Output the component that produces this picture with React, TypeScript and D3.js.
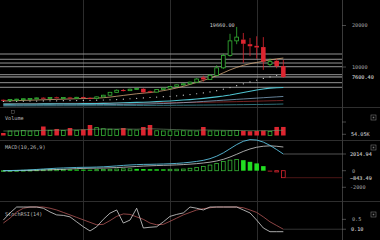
import React from 'react';
import * as d3 from 'd3';

const dates = ['2017-04-24','2017-05-01','2017-05-08','2017-05-15','2017-05-22','2017-05-29','2017-06-05','2017-06-12','2017-06-19','2017-06-26','2017-07-03','2017-07-10','2017-07-17','2017-07-24','2017-07-31','2017-08-07','2017-08-14','2017-08-21','2017-08-28','2017-09-04','2017-09-11','2017-09-18','2017-09-25','2017-10-02','2017-10-09','2017-10-16','2017-10-23','2017-10-30','2017-11-06','2017-11-13','2017-11-20','2017-11-27','2017-12-04','2017-12-11','2017-12-18','2017-12-25','2018-01-01','2018-01-08','2018-01-15','2018-01-22','2018-01-29','2018-02-05','2018-02-12'];
const opens = [2100,1950,2150,2250,2300,2350,2600,2400,2700,2500,2650,2550,2750,2550,2450,2800,3200,3900,4450,4300,4650,4750,4150,3950,4600,4900,5300,5700,5950,6350,7500,7000,8000,9800,12800,16300,16600,15500,15100,14800,10600,11500,10200];
const highs = [2200,2250,2350,2450,2500,2650,2750,2750,2850,2750,2800,2800,2850,2700,2900,3300,4000,4600,4700,4800,4950,4950,4300,4700,5000,5400,5800,6100,6500,7300,7900,8200,10400,13200,18000,19660,18200,17000,17400,17200,12000,11900,11700];
const lows = [1800,1850,2050,2150,2200,2250,2300,2350,2400,2400,2450,2500,2400,2300,2400,2750,3100,3800,4100,4200,4500,3600,3700,3900,4500,4800,5200,5500,5800,6200,6500,6900,7900,9500,12500,15500,11000,12600,12000,9300,10000,9700,7400];
const closes = [1950,2150,2250,2350,2400,2550,2400,2650,2500,2650,2550,2700,2500,2450,2800,3200,3900,4400,4300,4650,4800,3900,3950,4600,4900,5300,5700,5950,6350,7100,7000,8000,9800,12800,16300,17200,15600,15000,14700,11300,11300,10200,7600.4];
const volumes = [111,200,200,220,200,210,400,230,290,220,333,230,270,467,350,300,280,260,333,250,240,378,467,210,200,205,200,210,205,200,378,200,205,200,210,220,210,190,200,220,180,380,380];
const volumeMA = [200,200,205,210,210,215,230,235,240,240,250,250,255,270,280,285,285,285,290,285,280,290,300,290,280,270,260,250,240,235,245,240,235,230,225,225,220,215,215,215,215,225,235];
const maTan = [1800,1850,1900,1950,2000,2050,2100,2150,2200,2250,2300,2350,2400,2450,2500,2600,2750,2950,3150,3350,3550,3700,3850,4050,4300,4600,4950,5350,5800,6300,6750,7300,7900,8600,9300,9900,10400,10800,11100,11400,11700,11950,12150];
const maDot = [1700,1720,1740,1760,1780,1800,1820,1840,1860,1880,1900,1920,1950,1980,2010,2050,2100,2150,2250,2350,2450,2550,2650,2750,2850,2950,3050,3200,3350,3550,3750,4000,4300,4650,5050,5500,5950,6400,6850,7250,7600,7950,8250];
const maTeal = [1050,1060,1070,1080,1090,1100,1110,1120,1130,1140,1150,1160,1170,1185,1200,1230,1270,1320,1370,1420,1470,1520,1580,1650,1730,1820,1920,2030,2150,2300,2450,2620,2800,3000,3250,3550,3850,4150,4450,4700,4900,5000,5050];
const maBlue = [800,810,820,830,840,850,860,870,880,890,900,910,920,930,940,950,960,975,990,1010,1030,1060,1100,1150,1200,1260,1330,1410,1500,1600,1700,1800,1900,2000,2100,2200,2300,2400,2500,2600,2700,2800,2900];
const maRed = [1150,1160,1170,1180,1190,1200,1210,1220,1230,1240,1250,1260,1270,1280,1290,1300,1310,1320,1330,1340,1350,1360,1370,1380,1390,1400,1420,1440,1460,1480,1500,1530,1560,1590,1620,1650,1690,1730,1770,1810,1850,1890,1930];
const maDark = [600,605,610,615,620,625,630,635,640,645,650,655,660,665,670,675,680,690,700,710,720,730,740,750,760,770,780,790,800,815,830,845,860,875,890,910,930,950,970,990,1010,1040,1080];
const levels = [13130, 11860, 10960, 10070, 8150, 6220, 5110];
const lastPrice = 7600.40;
const maxPrice = 19660.00;
const priceTicks = [10000, 20000];
const macdLine = [0,20,40,70,100,150,200,250,300,330,360,390,410,420,440,470,520,580,640,690,730,760,770,790,810,840,880,940,1020,1120,1250,1450,1750,2150,2650,3150,3550,3750,3700,3450,3050,2550,2014.94];
const signalLine = [0,5,15,25,40,60,85,110,140,170,210,250,280,300,310,320,350,380,420,460,510,560,590,620,645,670,700,740,790,850,930,1030,1170,1370,1650,1980,2330,2620,2830,2950,3000,2950,2858];
const histogram = [0,15,25,45,60,90,115,140,160,160,150,140,130,120,130,150,170,200,220,230,220,200,180,170,165,170,180,200,290,400,520,680,880,1100,1270,1350,1270,1070,880,550,-80,-150,-843.49];
const macdTicks = [0, -2000];
const stochK = [0.47,0.76,1,1,1,1,0.95,0.8,0.68,0.66,0.6,0.4,0.2,0.03,0.2,0.5,0.75,0.88,0.35,0.47,0.95,0.15,0.18,0.2,0.4,0.62,0.7,0.76,1,0.95,0.88,1,1,1,1,1,0.88,0.76,0.47,0.15,0,0,0];
const stochD = [0.35,0.55,0.8,0.95,1,1,1,0.95,0.88,0.78,0.68,0.58,0.48,0.38,0.28,0.3,0.45,0.62,0.72,0.7,0.6,0.5,0.35,0.28,0.3,0.42,0.55,0.68,0.78,0.88,0.93,0.97,1,1,1,1,0.97,0.88,0.78,0.6,0.4,0.25,0.10];
const stochTicks = [0.5];
const gridDates = ['2017-07-17', '2017-10-16', '2018-01-15'];

const MONO = "'DejaVu Sans Mono', monospace";
const GREEN = '#35b535';
const GREEN_SOLID = '#22dd22';
const RED = '#dd2530';

export default function App() {
  const W = 380, H = 240;
  const axisX = 342;
  const x = d3.scaleBand<string>().domain(dates).range([0, 286.67]).paddingInner(0.32).paddingOuter(0.16);
  const bw = x.bandwidth();
  const cx = (i: number) => (x(dates[i]) as number) + bw / 2;
  const yP = d3.scaleLinear().domain([0, 20000]).range([108.5, 25.5]);
  const yV = d3.scaleLinear().domain([0, 600]).range([135.5, 122]);
  const yM = d3.scaleLinear().domain([0, 2014.94]).range([170.7, 154]);
  const yS = d3.scaleLinear().domain([0, 1]).range([231.7, 207]);

  const lineOf = (arr: number[], y: d3.ScaleLinear<number, number>) =>
    d3.line<number>().x((_, i) => cx(i)).y((v) => y(v))(arr) || '';

  const fmt = d3.format('.2f');
  const label = (txt: string, lx: number, ly: number, fill = '#a8a8a8') => (
    <text x={lx} y={ly} dy="0.35em" fontFamily={MONO} fontSize={5.2} fill={fill}>{txt}</text>
  );
  const icon = (ix: number, iy: number) => (
    <g>
      <rect x={ix} y={iy} width={5} height={5} fill="none" stroke="#777" strokeWidth={0.6} />
      <rect x={ix + 1.7} y={iy + 1.7} width={1.6} height={1.6} fill="#777" />
    </g>
  );

  return (
    <svg width={W} height={H} style={{ position: 'fixed', left: 0, top: 0, background: '#000' }}>
      <rect width={W} height={H} fill="#000" />
      {/* vertical grid */}
      {gridDates.map((d) => {
        const gx = Math.round(cx(dates.indexOf(d))) + 0.5;
        return <line key={d} x1={gx} x2={gx} y1={0} y2={H} stroke="#2c2c2c" strokeWidth={1} />;
      })}
      {/* panel separators */}
      {[107.5, 140.5, 201.5].map((sy) => (
        <line key={sy} x1={0} x2={W} y1={sy} y2={sy} stroke="#2e2e2e" strokeWidth={1} />
      ))}
      <line x1={axisX + 0.5} x2={axisX + 0.5} y1={0} y2={H} stroke="#3a3a3a" strokeWidth={1} />

      {/* levels */}
      {levels.map((lv) => (
        <line key={lv} x1={0} x2={axisX} y1={yP(lv)} y2={yP(lv)} stroke="#a4a4a4" strokeWidth={0.9} />
      ))}
      <line x1={0} x2={axisX} y1={yP(lastPrice)} y2={yP(lastPrice)} stroke="#c8c8c8" strokeWidth={0.9} />

      {/* moving averages */}
      <path d={lineOf(maDark, yP)} fill="none" stroke="#2f6f78" strokeWidth={1} />
      <path d={lineOf(maRed, yP)} fill="none" stroke="#a83232" strokeWidth={0.7} />
      <path d={lineOf(maBlue, yP)} fill="none" stroke="#8fb8d8" strokeWidth={0.7} />
      <path d={lineOf(maTeal, yP)} fill="none" stroke="#4fc3d0" strokeWidth={1.1} />
      <path d={lineOf(maTan, yP)} fill="none" stroke="#d2a679" strokeWidth={0.8} />
      {maDot.map((v, i) => (
        <circle key={i} cx={cx(i)} cy={yP(v)} r={0.6} fill="#dddddd" />
      ))}

      {/* candles */}
      {dates.map((d, i) => {
        const up = closes[i] >= opens[i];
        const c = cx(i);
        const top = yP(Math.max(opens[i], closes[i]));
        const bot = yP(Math.min(opens[i], closes[i]));
        const h = Math.max(1, bot - top);
        return (
          <g key={d}>
            <line x1={c} x2={c} y1={yP(highs[i])} y2={top} stroke={up ? GREEN : RED} strokeWidth={0.8} />
            <line x1={c} x2={c} y1={top + h} y2={yP(lows[i])} stroke={up ? GREEN : RED} strokeWidth={0.8} />
            {up ? (
              <rect x={c - bw / 2 + 0.4} y={top} width={bw - 0.8} height={h} fill="#000" stroke={GREEN} strokeWidth={0.8} />
            ) : (
              <rect x={c - bw / 2} y={top} width={bw} height={h} fill={RED} />
            )}
          </g>
        );
      })}
      <text x={cx(dates.indexOf('2017-12-25')) - 27} y={yP(maxPrice)} dy="0.1em" fontFamily={MONO} fontSize={5.2} fill="#cfcfcf">{fmt(maxPrice)}</text>

      {/* price axis */}
      {priceTicks.map((t) => (
        <g key={t}>
          <line x1={axisX} x2={axisX + 4} y1={yP(t)} y2={yP(t)} stroke="#777" strokeWidth={0.6} />
          {label(String(t), 352, yP(t))}
        </g>
      ))}
      {label(fmt(lastPrice), 352, yP(lastPrice), '#e8e8e8')}

      {/* volume */}
      {label('Volume', 5, 118.5, '#b8b8b8')}
      <rect x={11.5} y={110.5} width={3} height={3} fill="none" stroke="#666" strokeWidth={0.5} />
      {volumes.map((v, i) => {
        const up = closes[i] >= opens[i];
        const c = cx(i);
        return up ? (
          <rect key={i} x={c - bw / 2 + 0.4} y={yV(v)} width={bw - 0.8} height={yV(0) - yV(v)} fill="#000" stroke={GREEN} strokeWidth={0.8} />
        ) : (
          <rect key={i} x={c - bw / 2} y={yV(v)} width={bw} height={yV(0) - yV(v)} fill={RED} />
        );
      })}
      <path d={lineOf(volumeMA, yV)} fill="none" stroke="#6f9a6f" strokeWidth={0.6} />
      <line x1={axisX} x2={axisX + 4} y1={122} y2={122} stroke="#777" strokeWidth={0.6} />
      <line x1={axisX} x2={axisX + 4} y1={yV(54.05)} y2={yV(54.05)} stroke="#777" strokeWidth={0.6} />
      {label('54.05K', 351, yV(54.05), '#d8d8d8')}
      {icon(371, 115)}

      {/* MACD */}
      {label('MACD(10,26,9)', 5, 147, '#b8b8b8')}
      {histogram.map((v, i) => {
        const prev = i > 0 ? histogram[i - 1] : 0;
        const hollow = Math.abs(v) >= Math.abs(prev);
        const col = v >= 0 ? (hollow ? GREEN : GREEN_SOLID) : RED;
        const c = cx(i);
        const y0 = yM(0), y1 = yM(v);
        const top = Math.min(y0, y1);
        const h = Math.max(0.8, Math.abs(y1 - y0));
        return hollow ? (
          <rect key={i} x={c - bw / 2 + 0.4} y={top} width={bw - 0.8} height={h} fill="#000" stroke={col} strokeWidth={0.8} />
        ) : (
          <rect key={i} x={c - bw / 2} y={top} width={bw} height={h} fill={col} />
        );
      })}
      <path d={lineOf(signalLine, yM)} fill="none" stroke="#cfcfcf" strokeWidth={0.8} />
      <path d={lineOf(macdLine, yM)} fill="none" stroke="#5bc0de" strokeWidth={0.9} />
      <line x1={cx(42)} x2={axisX} y1={yM(2014.94)} y2={yM(2014.94)} stroke="#777" strokeWidth={0.7} />
      <line x1={cx(42) + 2} x2={axisX} y1={yM(-843.49)} y2={yM(-843.49)} stroke="#6a2020" strokeWidth={0.7} />
      {[2014.94, ...macdTicks].map((t) => (
        <line key={t} x1={axisX} x2={axisX + 4} y1={yM(t)} y2={yM(t)} stroke="#777" strokeWidth={0.6} />
      ))}
      {label(fmt(2014.94), 350, yM(2014.94), '#e0e0e0')}
      {macdTicks.map((t) => <g key={t}>{label(String(t).replace('-', '-'), t < 0 ? 350 : 352, yM(t))}</g>)}
      {label(fmt(-843.49), 350, yM(-843.49), '#e0e0e0')}
      {icon(371, 145)}

      {/* StochRSI */}
      {label('StochRSI(14)', 5, 214, '#b8b8b8')}
      <path d={lineOf(stochD, yS)} fill="none" stroke="#b05555" strokeWidth={0.8} />
      <path d={lineOf(stochK, yS)} fill="none" stroke="#d4d4d4" strokeWidth={0.8} />
      <line x1={cx(42)} x2={axisX} y1={yS(0.10)} y2={yS(0.10)} stroke="#555" strokeWidth={0.6} />
      {stochTicks.map((t) => (
        <g key={t}>
          <line x1={axisX} x2={axisX + 4} y1={yS(t)} y2={yS(t)} stroke="#777" strokeWidth={0.6} />
          {label(String(t), 352, yS(t))}
        </g>
      ))}
      <line x1={axisX} x2={axisX + 4} y1={yS(0.10)} y2={yS(0.10)} stroke="#777" strokeWidth={0.6} />
      {label(fmt(0.10), 351, yS(0.10), '#e0e0e0')}
      {icon(371, 212)}
    </svg>
  );
}
